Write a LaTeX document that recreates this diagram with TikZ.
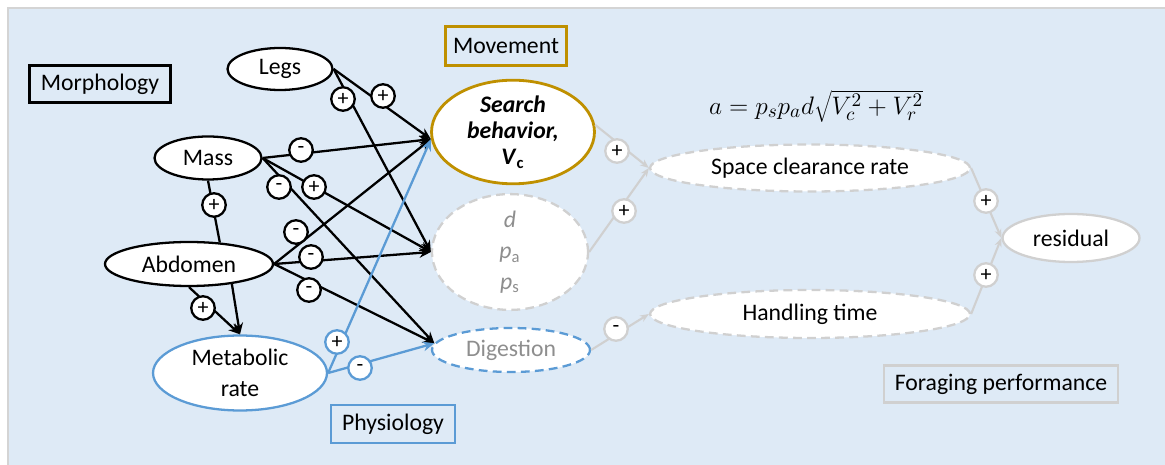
\documentclass[tikz,border=0pt]{standalone}
\usepackage{fontspec}
\setmainfont{Carlito}
\usetikzlibrary{arrows.meta, shapes.geometric}

\definecolor{bgblue}{HTML}{DEEAF6}
\definecolor{frame}{HTML}{D4D4D4}
\definecolor{gold}{HTML}{BF9000}
\definecolor{mblue}{HTML}{5B9BD5}
\definecolor{lgray}{HTML}{D0D0D0}
\definecolor{tgray}{HTML}{8E8E8E}

\tikzset{
  trait/.style={ellipse, draw, fill=white, line width=1.3pt, inner sep=0pt, align=center},
  dashtrait/.style={trait, dashed, dash pattern=on 5pt off 3pt},
  tagbox/.style={rectangle, draw, line width=1.3pt, inner sep=0pt},
  sgn/.style={circle, draw, fill=white, line width=1.3pt, inner sep=0pt,
    minimum size=0.47cm, font=\fontsize{12.5}{12.5}\selectfont},
  gsgn/.style={sgn, draw=lgray},
  bsgn/.style={sgn, draw=mblue},
  link/.style={line width=1.3pt, -{Stealth[length=6.5pt,width=5.5pt]}},
  glink/.style={line width=1.2pt, draw=lgray, -{Stealth[length=5pt,width=4pt]}},
  blink/.style={link, draw=mblue}
}

\begin{document}
\begin{tikzpicture}[x=0.02cm, y=-0.02cm, font=\fontsize{13.5}{16}\selectfont]

  \useasboundingbox (0,0) rectangle (1165,465);

  % Background panel
  \fill[bgblue] (8,8) rectangle (1165,465);
  \draw[frame, line width=1.2pt] (8,465) -- (8,8) -- (1165,8);

  % Group labels
  \node[tagbox, minimum width=2.82cm, minimum height=0.74cm] (morph) at (100,84) {Morphology};
  \node[tagbox, draw=gold, minimum width=2.42cm, minimum height=0.78cm] (move) at (506,46) {Movement};
  \node[tagbox, draw=mblue, minimum width=2.48cm, minimum height=0.76cm] (physio) at (393,424) {Physiology};
  \node[tagbox, draw=lgray, minimum width=4.68cm, minimum height=0.74cm] (forage) at (1001,384) {Foraging performance};

  % Traits
  \node[trait, minimum width=2.1cm, minimum height=0.84cm] (legs) at (280,69) {Legs};
  \node[trait, minimum width=2.14cm, minimum height=0.86cm] (mass) at (208,158) {Mass};
  \node[trait, minimum width=3.36cm, minimum height=0.88cm] (abdomen) at (189,264) {Abdomen};
  \node[trait, draw=mblue, minimum width=3.48cm, minimum height=1.5cm,
    font=\fontsize{13.5}{17.5}\selectfont] (metab) at (240,373) {Metabolic\\rate};

  % Behaviour and outcomes
  \node[trait, draw=gold, line width=1.6pt, minimum width=3.26cm, minimum height=1.98cm,
    font=\fontsize{13.5}{15}\selectfont\bfseries] (search) at (513,132)
    {\textit{Search}\\\textit{behavior,}\\\textit{V}\textsubscript{c}};
  \node[dashtrait, draw=lgray, text=tgray, minimum width=3.12cm, minimum height=2.08cm,
    font=\fontsize{13.5}{17.5}\selectfont] (dpa) at (510,252)
    {\textit{d}\\\textit{p}\textsubscript{a}\\\textit{p}\textsubscript{s}};
  \node[dashtrait, draw=mblue, text=tgray, minimum width=3.16cm, minimum height=0.88cm] (digest) at (511,350) {Digestion};
  \node[dashtrait, draw=lgray, minimum width=6.4cm, minimum height=0.94cm] (space) at (810,168) {Space clearance rate};
  \node[dashtrait, draw=lgray, minimum width=6.4cm, minimum height=0.96cm] (handle) at (810,314) {Handling time};
  \node[trait, draw=lgray, minimum width=2.74cm, minimum height=0.96cm] (resid) at (1071,238) {residual};

  % Encounter rate formula
  \node[font=\fontsize{15}{18}\selectfont] (formula) at (816,106)
    {$a = p_s p_a d\sqrt{V_c^2 + V_r^2\vphantom{\Big|}}$};

  % Morphology -> behaviour
  \draw[link] (legs.east) -- (search.185);
  \draw[link] (legs.east) -- (dpa.west);
  \draw[link] (mass.east) -- (search.185);
  \draw[link] (mass.east) -- (dpa.west);
  \draw[link] (mass.east) -- (digest.175);
  \draw[line width=1.3pt] (mass.south) -- (abdomen.35);
  \draw[link] (abdomen.south) -- (metab.north);
  \draw[link] (abdomen.-25) -- (metab.north);
  \draw[link] (abdomen.east) -- (search.185);
  \draw[link] (abdomen.east) -- (dpa.west);
  \draw[link] (abdomen.east) -- (digest.175);

  % Physiology -> behaviour
  \draw[blink] (metab.east) -- (search.185);
  \draw[blink] (metab.east) -- (digest.175);

  % Foraging performance chain
  \draw[glink] (search.5) -- (space.west);
  \draw[glink] (dpa.east) -- (space.west);
  \draw[glink] (digest.east) -- (handle.west);
  \draw[glink] (space.east) -- (resid.west);
  \draw[glink] (handle.east) -- (resid.west);

  % Signs
  \node[sgn] (sLs) at (383,96) {+};
  \node[sgn] (sLd) at (343,99) {+};
  \node[sgn] (sMs) at (301,150) {-};
  \node[sgn] (sMd) at (314,187) {+};
  \node[sgn] (sMg) at (279,187) {-};
  \node[sgn] (sMa) at (214,205) {+};
  \node[sgn] (sAs) at (296,232) {-};
  \node[sgn] (sAd) at (311,257) {-};
  \node[sgn] (sAg) at (309,290) {-};
  \node[sgn] (sAm) at (203,308) {+};
  \node[bsgn] (sRs) at (337,342) {+};
  \node[bsgn] (sRg) at (360,368) {-};
  \node[gsgn] (sSa) at (617,151) {+};
  \node[gsgn] (sDa) at (624,211) {+};
  \node[gsgn] (sGh) at (616,329) {-};
  \node[gsgn] (sAr) at (986,201) {+};
  \node[gsgn] (sHr) at (986,275) {+};

\end{tikzpicture}
\end{document}
